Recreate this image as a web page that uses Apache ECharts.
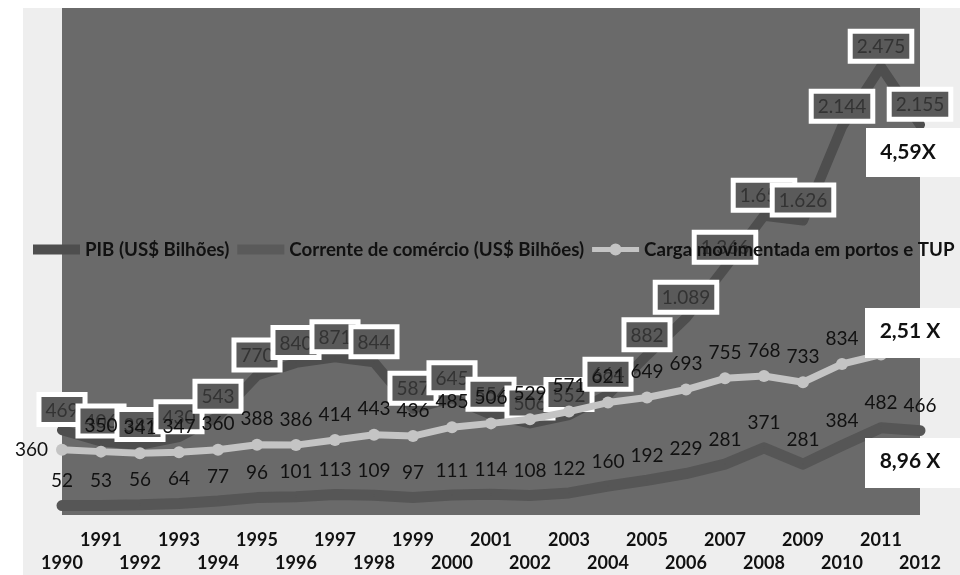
<!DOCTYPE html>
<html>
<head>
<meta charset="utf-8">
<script src="https://cdn.jsdelivr.net/npm/echarts@6/dist/echarts.min.js"></script>
<style>html,body{margin:0;padding:0;background:#fff;}#c{width:960px;height:575px;}</style>
</head>
<body>
<div id="c"></div>
<script>
var years = ['1990','1991','1992','1993','1994','1995','1996','1997','1998','1999','2000','2001','2002','2003','2004','2005','2006','2007','2008','2009','2010','2011','2012'];
var pib = [469,406,387,430,543,770,840,871,844,587,645,554,506,552,664,882,1089,1366,1653,1626,2144,2475,2155];
var corrente = [52,53,56,64,77,96,101,113,109,97,111,114,108,122,160,192,229,281,371,281,384,482,466];
var carga = [360,350,341,347,360,388,386,414,443,436,485,506,529,571,621,649,693,755,768,733,834,886,904];
var seriesNames = ['PIB (US$ Bilhões)','Corrente de comércio (US$ Bilhões)','Carga movimentada em portos e TUP'];
var ratios = ['4,59X','2,51 X','8,96 X'];

function fmtBR(v){ return String(v).replace(/\B(?=(\d{3})+(?!\d))/g,'.'); }
var FONT = 'Lato';

var chart = echarts.init(document.getElementById('c'), null, {renderer:'canvas'});
var cargaData = carga.map(function(v,i){
  if(i===0) return {value:v, label:{position:'left', distance:8}};
  return v;
});
chart.setOption({
  backgroundColor:'#ffffff',
  animation:false,
  grid:{left:62, right:40, top:8, bottom:52, show:true, backgroundColor:'#6a6a6a', borderWidth:0},
  legend:{
    left:28, top:235, itemWidth:47, itemHeight:12, itemGap:8,
    textStyle:{fontFamily:FONT, fontWeight:'bold', fontSize:18.7, color:'#111'},
    data:[
      {name:seriesNames[0], icon:'path://M0,1H47V11H0Z', itemStyle:{color:'#4e4e4e'}},
      {name:seriesNames[1], icon:'path://M0,1H47V11H0Z', itemStyle:{color:'#5a5a5a'}},
      {name:seriesNames[2], icon:'path://M0,3.5H47V8.5H0Z M29.5,6A6,6 0 1 1 17.5,6A6,6 0 1 1 29.5,6Z', itemStyle:{color:'#c4c4c4'}}
    ]
  },
  xAxis:{
    type:'category', data:years, boundaryGap:false,
    axisLine:{show:false}, axisTick:{show:false}, splitLine:{show:false},
    axisLabel:{interval:0, margin:14, lineHeight:23, fontFamily:FONT, fontWeight:'bold', fontSize:18, color:'#111',
      formatter:function(v,i){ return i%2===0 ? '\n'+v : v; }}
  },
  yAxis:{type:'value', min:0, max:2800, show:false, splitLine:{show:false}},
  series:[
    {
      name:seriesNames[0], type:'line', data:pib, z:3, clip:false,
      symbol:'circle', symbolSize:2, itemStyle:{color:'#4e4e4e'},
      lineStyle:{width:10, color:'#4e4e4e', cap:'round', join:'round'},
      label:{show:true, position:'top', distance:7,
        formatter:function(p){return fmtBR(p.value);},
        fontFamily:FONT, fontSize:19, color:'#333',
        backgroundColor:'#5a5a5a', borderColor:'#ffffff', borderWidth:5, padding:[4,4,2,4]}
    },
    {
      name:seriesNames[1], type:'line', data:corrente, z:2, clip:false,
      symbol:'circle', symbolSize:2, itemStyle:{color:'#565656'},
      lineStyle:{width:11, color:'#565656', cap:'round', join:'round'},
      label:{show:true, position:'top', distance:14, fontFamily:FONT, fontSize:19, color:'#111'}
    },
    {
      name:seriesNames[2], type:'line', data:cargaData, z:4, clip:false,
      symbol:'circle', symbolSize:12, itemStyle:{color:'#c4c4c4'},
      lineStyle:{width:7, color:'#c4c4c4'},
      label:{show:true, position:'top', distance:10, fontFamily:FONT, fontSize:19, color:'#111'}
    }
  ],
  graphic:[
    {type:'rect', z:-100, shape:{x:23, y:8, width:937, height:567}, style:{fill:'#eeeeee'}},
    {type:'rect', z:100, shape:{x:866, y:128, width:94, height:49}, style:{fill:'#ffffff'}},
    {type:'text', z:101, x:908, y:152, style:{text:ratios[0], fill:'#111', font:'bold 21px Lato', textAlign:'center', textVerticalAlign:'middle'}},
    {type:'rect', z:100, shape:{x:865, y:308, width:95, height:50}, style:{fill:'#ffffff'}},
    {type:'text', z:101, x:910, y:331, style:{text:ratios[1], fill:'#111', font:'bold 21px Lato', textAlign:'center', textVerticalAlign:'middle'}},
    {type:'rect', z:100, shape:{x:865, y:438, width:95, height:50}, style:{fill:'#ffffff'}},
    {type:'text', z:101, x:910, y:461, style:{text:ratios[2], fill:'#111', font:'bold 21px Lato', textAlign:'center', textVerticalAlign:'middle'}}
  ]
});
</script>
</body>
</html>
